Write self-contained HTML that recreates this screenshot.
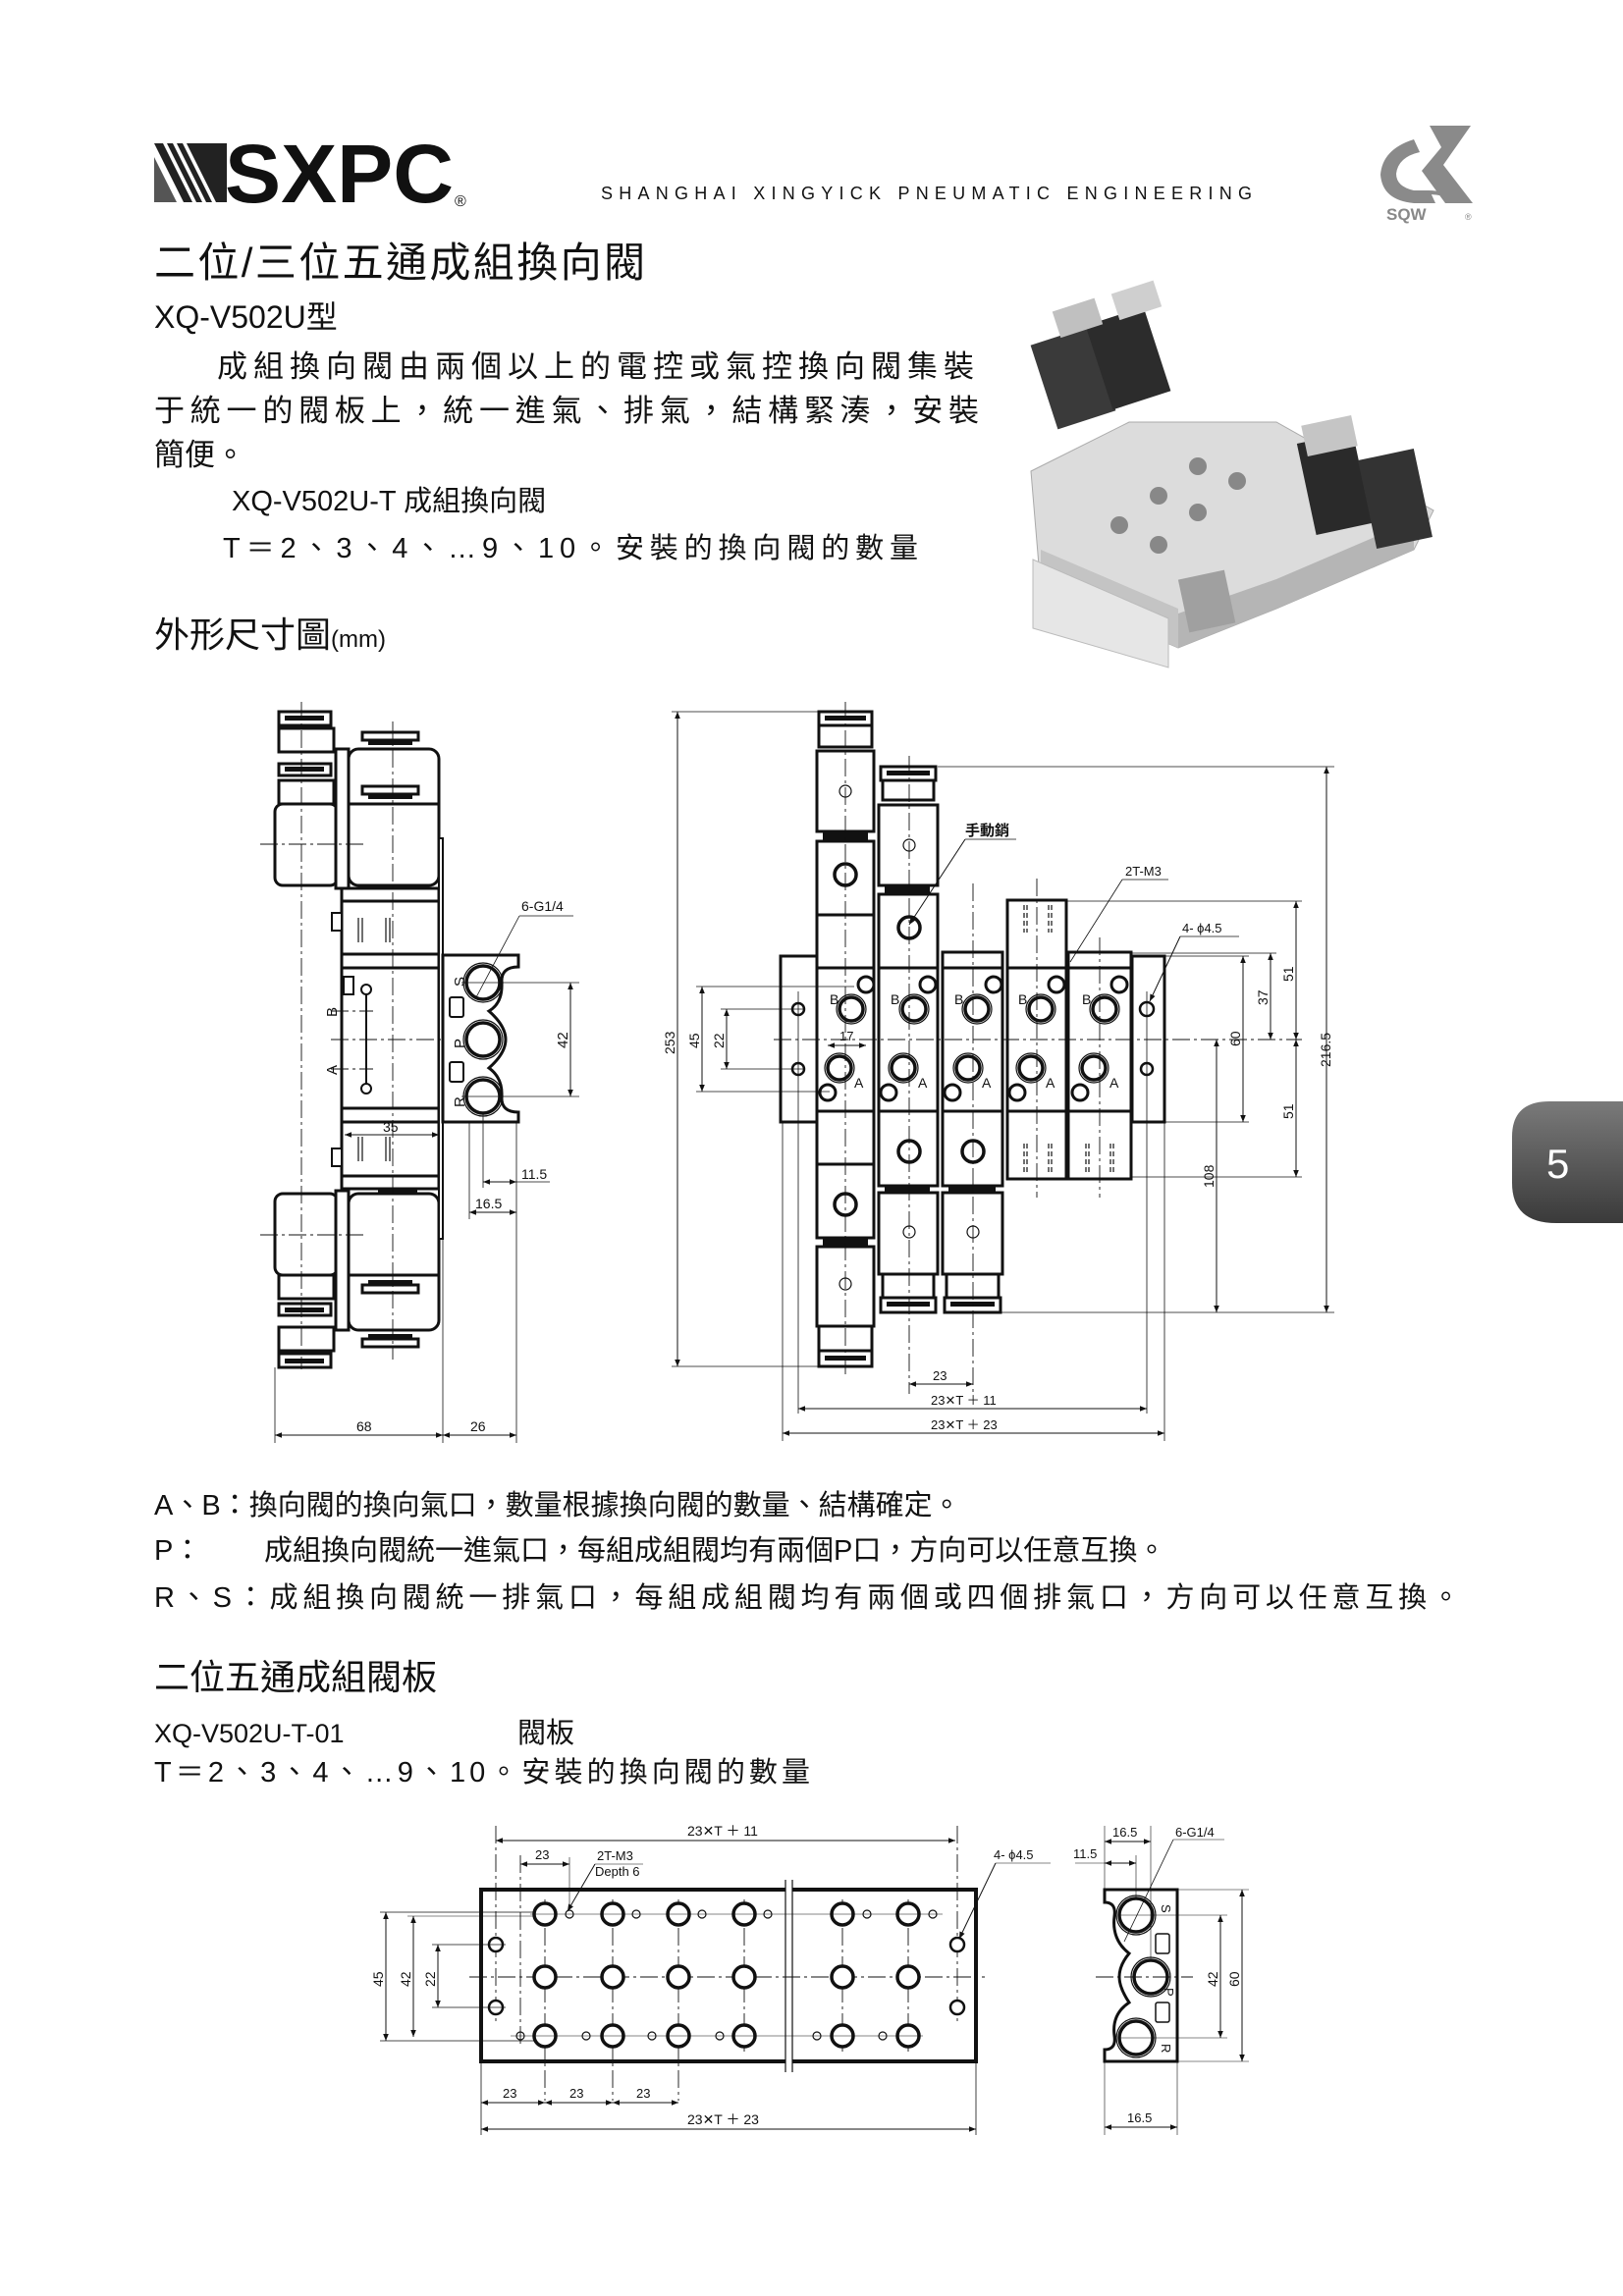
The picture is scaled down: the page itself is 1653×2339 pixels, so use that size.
<!DOCTYPE html>
<html><head><meta charset="utf-8">
<style>
html,body{margin:0;padding:0;background:#fff;}
svg{display:block;}
.t{font-family:"Liberation Sans","Noto Sans CJK TC",sans-serif;fill:#111;}
.o{fill:#fff;stroke:#111;stroke-width:3;}
.on{fill:none;stroke:#111;stroke-width:3;}
.th{fill:none;stroke:#111;stroke-width:1.2;}
.d{fill:none;stroke:#111;stroke-width:1;marker-start:url(#ar);marker-end:url(#ar);}
.c{fill:none;stroke:#111;stroke-width:0.9;stroke-dasharray:18 4 3 4;}
.dim{font-family:"Liberation Sans",sans-serif;font-size:15px;fill:#111;}
.h{fill:#fff;stroke:#111;stroke-width:3.5;}
.hs{fill:#fff;stroke:#111;stroke-width:2;}
</style></head><body>
<svg width="1653" height="2339" viewBox="0 0 1653 2339" xmlns="http://www.w3.org/2000/svg">
<defs>
<marker id="ar" viewBox="0 0 10 10" refX="10" refY="5" markerWidth="12" markerHeight="7" markerUnits="userSpaceOnUse" orient="auto-start-reverse"><path d="M0,1 L10,5 L0,9z" fill="#111"/></marker>
<linearGradient id="tg" x1="0" y1="0" x2="0" y2="1"><stop offset="0" stop-color="#7a7a7a"/><stop offset="1" stop-color="#3a3a3a"/></linearGradient>
</defs>

<!-- HEADER -->
<g fill="#222">
<polygon points="157,146 166,146 196,206 187,206"/>
<polygon points="170,146 176,146 206,206 200,206"/>
<polygon points="180,146 186,146 216,206 210,206"/>
<polygon points="190,146 231,146 231,206 220,206"/>
<polygon points="157,160 157,206 180,206" fill="#555"/>
</g>
<text x="229" y="206" class="t" style="font-size:84px;font-weight:bold" textLength="233" lengthAdjust="spacingAndGlyphs">SXPC</text>
<text x="463" y="210" class="t" style="font-size:16px">®</text>
<text x="612" y="203" class="t" style="font-size:18px" textLength="663" lengthAdjust="spacing">SHANGHAI XINGYICK PNEUMATIC ENGINEERING</text>
<!-- SQW logo -->
<g fill="#8a8a8a">
<path d="M1440,142 Q1408,152 1406,178 Q1408,204 1440,207 L1462,207 L1456,194 L1440,194 Q1422,190 1422,177 Q1424,160 1446,155 Z"/>
<polygon points="1456,128 1498,128 1470,168 1500,207 1472,207 1448,174 1468,150"/>
<path d="M1430,200 Q1460,190 1490,205" fill="none" stroke="#8a8a8a" stroke-width="4"/>
</g>
<text x="1412" y="224" class="t" style="font-size:17px;font-weight:bold;fill:#888">SQW</text>
<text x="1492" y="224" class="t" style="font-size:9px;fill:#888">®</text>

<!-- TITLES -->
<text x="157" y="282" class="t" style="font-size:42px" textLength="500">二位/三位五通成組換向閥</text>
<text x="157" y="334" class="t" style="font-size:32px">XQ-V502U型</text>
<text x="221" y="384" class="t" style="font-size:31px" textLength="771">成組換向閥由兩個以上的電控或氣控換向閥集裝</text>
<text x="157" y="429" class="t" style="font-size:31px" textLength="840">于統一的閥板上，統一進氣、排氣，結構緊湊，安裝</text>
<text x="157" y="474" class="t" style="font-size:31px">簡便。</text>
<text x="236" y="520" class="t" style="font-size:29px">XQ-V502U-T  成組換向閥</text>
<text x="227" y="568" class="t" style="font-size:29px" textLength="708">T＝2、3、4、…9、10。安裝的換向閥的數量</text>
<text x="157" y="659" class="t" style="font-size:36px">外形尺寸圖<tspan style="font-size:24px">(mm)</tspan></text>

<!-- PHOTO approx -->
<g>
<polygon points="1050,480 1150,430 1300,430 1460,520 1440,560 1300,620 1200,660 1060,600" fill="#dcdcdc" stroke="#aaa"/>
<polygon points="1060,600 1200,660 1200,620 1060,560" fill="#c4c4c4"/>
<polygon points="1200,660 1300,620 1440,560 1440,530 1300,590 1200,625" fill="#b5b5b5"/>
<polygon points="1052,570 1190,630 1190,680 1052,640" fill="#e6e6e6" stroke="#bbb"/>
<rect x="1062" y="340" width="62" height="90" fill="#3a3a3a" transform="rotate(-18 1093 385)"/>
<rect x="1118" y="320" width="62" height="90" fill="#2c2c2c" transform="rotate(-18 1149 365)"/>
<rect x="1075" y="310" width="45" height="28" fill="#c0c0c0" transform="rotate(-18 1097 324)"/>
<rect x="1135" y="292" width="45" height="28" fill="#cfcfcf" transform="rotate(-18 1157 306)"/>
<rect x="1330" y="445" width="58" height="95" fill="#2a2a2a" transform="rotate(-12 1359 492)"/>
<rect x="1392" y="462" width="58" height="92" fill="#333" transform="rotate(-12 1421 508)"/>
<rect x="1328" y="428" width="52" height="32" fill="#c5c5c5" transform="rotate(-12 1354 444)"/>
<circle cx="1220" cy="475" r="9" fill="#888"/><circle cx="1260" cy="490" r="9" fill="#888"/>
<circle cx="1180" cy="505" r="9" fill="#888"/><circle cx="1220" cy="522" r="9" fill="#888"/>
<circle cx="1140" cy="535" r="9" fill="#888"/><circle cx="1180" cy="555" r="9" fill="#888"/>
<rect x="1205" y="585" width="48" height="55" fill="#a0a0a0" transform="rotate(-12 1229 612)"/>
</g>

<!-- TAB -->
<path d="M1653,1122 H1578 Q1540,1122 1540,1158 V1205 Q1540,1246 1585,1246 H1653 Z" fill="url(#tg)"/>
<text x="1575" y="1200" class="t" style="font-size:42px;fill:#fff">5</text>

<!-- LEFT DRAWING -->
<g id="topsol">
<rect x="284" y="725" width="53" height="14" class="o"/>
<rect x="290" y="729" width="40" height="5" fill="#111"/>
<rect x="284" y="742" width="56" height="24" class="o"/>
<rect x="284" y="778" width="53" height="12" class="o"/>
<rect x="290" y="781" width="40" height="5" fill="#111"/>
<rect x="284" y="795" width="56" height="24" class="o"/>
<rect x="280" y="819" width="64" height="83" rx="8" class="o"/>
<rect x="355" y="763" width="92" height="139" rx="10" class="o"/>
<line x1="355" y1="819" x2="447" y2="819" class="on"/>
<rect x="342" y="763" width="13" height="142" class="o"/>
<rect x="369" y="746" width="57" height="8" class="o"/>
<rect x="375" y="754" width="45" height="5" fill="#111"/>
<rect x="369" y="801" width="57" height="8" class="o"/>
<rect x="375" y="809" width="45" height="5" fill="#111"/>
<rect x="385" y="902" width="40" height="5" fill="#111"/>
</g>
<use href="#topsol" transform="translate(0,2118) scale(1,-1)"/>
<rect x="348" y="905" width="99" height="306" class="o"/>
<line x1="348" y1="918" x2="447" y2="918" class="on"/>
<line x1="348" y1="972" x2="447" y2="972" class="on"/>
<line x1="348" y1="986" x2="447" y2="986" class="on"/>
<line x1="348" y1="1129" x2="447" y2="1129" class="on"/>
<line x1="348" y1="1143" x2="447" y2="1143" class="on"/>
<line x1="348" y1="1198" x2="447" y2="1198" class="on"/>
<rect x="447" y="854" width="4" height="408" class="o" style="stroke-width:2"/>
<rect x="338" y="930" width="10" height="18" class="o" style="stroke-width:2"/>
<rect x="338" y="1170" width="10" height="18" class="o" style="stroke-width:2"/>
<rect x="350" y="995" width="10" height="18" class="o" style="stroke-width:2"/>
<g class="th"><line x1="365" y1="935" x2="365" y2="960"/><line x1="369" y1="935" x2="369" y2="960"/><line x1="393" y1="935" x2="393" y2="960"/><line x1="397" y1="935" x2="397" y2="960"/>
<line x1="365" y1="1158" x2="365" y2="1183"/><line x1="369" y1="1158" x2="369" y2="1183"/><line x1="393" y1="1158" x2="393" y2="1183"/><line x1="397" y1="1158" x2="397" y2="1183"/></g>
<line x1="373" y1="1008" x2="373" y2="1109" class="on" style="stroke-width:2"/>
<circle cx="373" cy="1008" r="5" class="hs"/><circle cx="373" cy="1109" r="5" class="hs"/>
<line x1="400" y1="735" x2="400" y2="1385" class="c"/>
<line x1="307" y1="715" x2="307" y2="1395" class="c"/>
<line x1="265" y1="860" x2="372" y2="860" class="c"/>
<line x1="265" y1="1258" x2="372" y2="1258" class="c"/>
<line x1="337" y1="1030" x2="380" y2="1030" class="c"/>
<line x1="337" y1="1089" x2="380" y2="1089" class="c"/>
<line x1="337" y1="1059" x2="515" y2="1059" class="c"/>
<text transform="translate(343,1036) rotate(-90)" class="dim">B</text>
<text transform="translate(343,1095) rotate(-90)" class="dim">A</text>
<path d="M451,973 H528 V985 Q510,985 511,1001 Q512,1022 498,1030 Q515,1045 515,1059 Q515,1073 498,1088 Q512,1098 511,1117 Q510,1133 528,1133 V1143 H451 Z" class="o"/>
<circle cx="492" cy="1001" r="17" class="h"/><circle cx="492" cy="1001" r="20" class="th"/>
<circle cx="492" cy="1059" r="17" class="h"/><circle cx="492" cy="1059" r="20" class="th"/>
<circle cx="492" cy="1117" r="17" class="h"/><circle cx="492" cy="1117" r="20" class="th"/>
<rect x="458" y="1016" width="14" height="20" rx="2" class="o" style="stroke-width:2"/>
<rect x="458" y="1082" width="14" height="20" rx="2" class="o" style="stroke-width:2"/>
<text transform="translate(473,1005) rotate(-90)" class="dim">S</text>
<text transform="translate(473,1068) rotate(-90)" class="dim">P</text>
<text transform="translate(473,1128) rotate(-90)" class="dim">R</text>
<line x1="470" y1="1001" x2="590" y2="1001" class="th" style="stroke-width:0.8"/>
<line x1="470" y1="1117" x2="590" y2="1117" class="th" style="stroke-width:0.8"/>
<line x1="581" y1="1001" x2="581" y2="1117" class="d"/>
<text transform="translate(578,1068) rotate(-90)" class="dim">42</text>
<text x="531" y="928" class="dim" style="font-size:14px">6-G1/4</text>
<line x1="529" y1="933" x2="584" y2="933" class="th" style="stroke-width:0.8"/>
<line x1="529" y1="933" x2="485" y2="1016" class="th" style="stroke-width:0.8"/>
<line x1="351" y1="1156" x2="447" y2="1156" class="d"/>
<text x="390" y="1153" class="dim" style="font-size:14px">35</text>
<line x1="478" y1="1143" x2="478" y2="1242" class="th" style="stroke-width:0.8"/>
<line x1="492" y1="1135" x2="492" y2="1210" class="th" style="stroke-width:0.8"/>
<line x1="526" y1="1143" x2="526" y2="1470" class="th" style="stroke-width:0.8"/>
<line x1="451" y1="1262" x2="451" y2="1470" class="th" style="stroke-width:0.8"/>
<line x1="280" y1="1393" x2="280" y2="1470" class="th" style="stroke-width:0.8"/>
<line x1="492" y1="1204" x2="526" y2="1204" class="d"/>
<line x1="526" y1="1204" x2="560" y2="1204" class="th" style="stroke-width:0.8"/>
<text x="531" y="1201" class="dim" style="font-size:14px">11.5</text>
<line x1="478" y1="1235" x2="526" y2="1235" class="d"/>
<text x="484" y="1231" class="dim" style="font-size:14px">16.5</text>
<line x1="280" y1="1462" x2="451" y2="1462" class="d"/>
<text x="363" y="1458" class="dim" style="font-size:14px">68</text>
<line x1="451" y1="1462" x2="526" y2="1462" class="d"/>
<text x="479" y="1458" class="dim" style="font-size:14px">26</text>

<!-- RIGHT DRAWING -->
<rect x="795" y="974" width="37" height="169" class="o"/>
<rect x="1153" y="974" width="33" height="169" class="o"/>
<circle cx="813" cy="1028" r="6" class="h" style="stroke-width:2.5"/>
<circle cx="813" cy="1089" r="6" class="h" style="stroke-width:2.5"/>
<circle cx="1168" cy="1028" r="7" class="h" style="stroke-width:2.5"/>
<circle cx="1168" cy="1089" r="6" class="h" style="stroke-width:2.5"/>
<g>
<rect x="834" y="725" width="54" height="14" class="o"/><rect x="840" y="729" width="42" height="5" fill="#111"/>
<rect x="834" y="739" width="54" height="22" class="o"/>
<rect x="832" y="765" width="58" height="82" class="o"/>
<rect x="838" y="848" width="46" height="8" fill="#111"/>
<rect x="832" y="857" width="58" height="404" class="o"/>
<line x1="832" y1="932" x2="890" y2="932" class="on"/><line x1="832" y1="986" x2="890" y2="986" class="on"/>
<line x1="832" y1="1132" x2="890" y2="1132" class="on"/><line x1="832" y1="1186" x2="890" y2="1186" class="on"/>
<rect x="838" y="1262" width="46" height="8" fill="#111"/>
<rect x="832" y="1270" width="58" height="81" class="o"/>
<rect x="834" y="1351" width="54" height="25" class="o"/>
<rect x="834" y="1376" width="54" height="16" class="o"/><rect x="840" y="1381" width="42" height="5" fill="#111"/>
<circle cx="861" cy="806" r="6" class="th"/><circle cx="861" cy="1308" r="6" class="th"/>
<circle cx="861" cy="891" r="11" class="h"/><circle cx="861" cy="1227" r="11" class="h"/>
</g>
<g>
<rect x="897" y="781" width="56" height="14" class="o"/><rect x="903" y="785" width="44" height="5" fill="#111"/>
<rect x="899" y="795" width="52" height="20" class="o"/>
<rect x="895" y="820" width="60" height="82" class="o"/>
<rect x="901" y="903" width="46" height="7" fill="#111"/>
<rect x="895" y="911" width="60" height="297" class="o"/>
<line x1="895" y1="986" x2="955" y2="986" class="on"/><line x1="895" y1="1132" x2="955" y2="1132" class="on"/>
<rect x="901" y="1208" width="46" height="7" fill="#111"/>
<rect x="895" y="1215" width="60" height="83" class="o"/>
<rect x="899" y="1298" width="52" height="24" class="o"/>
<rect x="897" y="1322" width="56" height="15" class="o"/><rect x="903" y="1326" width="44" height="5" fill="#111"/>
<circle cx="926" cy="861" r="6" class="th"/><circle cx="926" cy="1255" r="6" class="th"/>
<circle cx="926" cy="945" r="11" class="h"/><circle cx="926" cy="1173" r="11" class="h"/>
</g>
<g>
<rect x="960" y="970" width="61" height="238" class="o"/>
<line x1="960" y1="986" x2="1021" y2="986" class="on"/><line x1="960" y1="1132" x2="1021" y2="1132" class="on"/>
<rect x="966" y="1208" width="48" height="7" fill="#111"/>
<rect x="960" y="1215" width="61" height="83" class="o"/>
<rect x="964" y="1298" width="53" height="24" class="o"/>
<rect x="962" y="1322" width="57" height="15" class="o"/><rect x="968" y="1326" width="45" height="5" fill="#111"/>
<circle cx="991" cy="1255" r="6" class="th"/>
<circle cx="991" cy="1173" r="11" class="h"/>
</g>
<g>
<rect x="1026" y="917" width="60" height="284" class="o"/>
<line x1="1026" y1="986" x2="1086" y2="986" class="on"/><line x1="1026" y1="1132" x2="1086" y2="1132" class="on"/>
<g class="th" style="stroke-dasharray:5 3"><line x1="1043" y1="922" x2="1043" y2="950"/><line x1="1046" y1="922" x2="1046" y2="950"/><line x1="1068" y1="922" x2="1068" y2="950"/><line x1="1071" y1="922" x2="1071" y2="950"/>
<line x1="1043" y1="1165" x2="1043" y2="1195"/><line x1="1046" y1="1165" x2="1046" y2="1195"/><line x1="1068" y1="1165" x2="1068" y2="1195"/><line x1="1071" y1="1165" x2="1071" y2="1195"/></g>
</g>
<g>
<rect x="1088" y="970" width="64" height="231" class="o"/>
<line x1="1088" y1="986" x2="1152" y2="986" class="on"/><line x1="1088" y1="1132" x2="1152" y2="1132" class="on"/>
<g class="th" style="stroke-dasharray:5 3"><line x1="1106" y1="1165" x2="1106" y2="1195"/><line x1="1109" y1="1165" x2="1109" y2="1195"/><line x1="1131" y1="1165" x2="1131" y2="1195"/><line x1="1134" y1="1165" x2="1134" y2="1195"/></g>
</g>
<g>
<circle cx="882" cy="1003" r="8" class="hs" style="stroke-width:3"/><circle cx="945" cy="1003" r="8" class="hs" style="stroke-width:3"/><circle cx="1012" cy="1003" r="8" class="hs" style="stroke-width:3"/><circle cx="1076" cy="1003" r="8" class="hs" style="stroke-width:3"/><circle cx="1140" cy="1003" r="8" class="hs" style="stroke-width:3"/>
<circle cx="843" cy="1113" r="8" class="hs" style="stroke-width:3"/><circle cx="905" cy="1113" r="8" class="hs" style="stroke-width:3"/><circle cx="970" cy="1113" r="8" class="hs" style="stroke-width:3"/><circle cx="1036" cy="1113" r="8" class="hs" style="stroke-width:3"/><circle cx="1100" cy="1113" r="8" class="hs" style="stroke-width:3"/>
<circle cx="867" cy="1028" r="12" class="h"/><circle cx="867" cy="1028" r="15" class="th"/>
<circle cx="931" cy="1028" r="12" class="h"/><circle cx="931" cy="1028" r="15" class="th"/>
<circle cx="995" cy="1028" r="12" class="h"/><circle cx="995" cy="1028" r="15" class="th"/>
<circle cx="1060" cy="1028" r="12" class="h"/><circle cx="1060" cy="1028" r="15" class="th"/>
<circle cx="1125" cy="1028" r="12" class="h"/><circle cx="1125" cy="1028" r="15" class="th"/>
<circle cx="855" cy="1088" r="12" class="h"/><circle cx="855" cy="1088" r="15" class="th"/>
<circle cx="920" cy="1088" r="12" class="h"/><circle cx="920" cy="1088" r="15" class="th"/>
<circle cx="986" cy="1088" r="12" class="h"/><circle cx="986" cy="1088" r="15" class="th"/>
<circle cx="1050" cy="1088" r="12" class="h"/><circle cx="1050" cy="1088" r="15" class="th"/>
<circle cx="1114" cy="1088" r="12" class="h"/><circle cx="1114" cy="1088" r="15" class="th"/>
</g>
<g class="dim" style="font-size:14px">
<text x="845" y="1023">B</text><text x="907" y="1023">B</text><text x="972" y="1023">B</text><text x="1037" y="1023">B</text><text x="1102" y="1023">B</text>
<text x="870" y="1108">A</text><text x="935" y="1108">A</text><text x="1000" y="1108">A</text><text x="1065" y="1108">A</text><text x="1130" y="1108">A</text>
</g>
<line x1="861" y1="715" x2="861" y2="1400" class="c"/>
<line x1="926" y1="770" x2="926" y2="1420" class="c"/>
<line x1="991" y1="900" x2="991" y2="1420" class="c"/>
<line x1="1056" y1="895" x2="1056" y2="1220" class="c"/>
<line x1="1120" y1="955" x2="1120" y2="1220" class="c"/>
<line x1="788" y1="1059" x2="1326" y2="1059" class="c"/>
<line x1="813" y1="1010" x2="813" y2="1440" class="th" style="stroke-width:0.8"/>
<line x1="1168" y1="1010" x2="1168" y2="1440" class="th" style="stroke-width:0.8"/>
<line x1="797" y1="1143" x2="797" y2="1468" class="th" style="stroke-width:0.8"/>
<line x1="1186" y1="1143" x2="1186" y2="1468" class="th" style="stroke-width:0.8"/>
<line x1="684" y1="725" x2="834" y2="725" class="th" style="stroke-width:0.8"/>
<line x1="684" y1="1392" x2="834" y2="1392" class="th" style="stroke-width:0.8"/>
<line x1="690" y1="725" x2="690" y2="1392" class="d"/>
<text transform="translate(687,1074) rotate(-90)" class="dim" style="font-size:14px">253</text>
<line x1="709" y1="1005" x2="870" y2="1005" class="th" style="stroke-width:0.8"/>
<line x1="709" y1="1112" x2="845" y2="1112" class="th" style="stroke-width:0.8"/>
<line x1="715" y1="1005" x2="715" y2="1112" class="d"/>
<text transform="translate(712,1068) rotate(-90)" class="dim" style="font-size:14px">45</text>
<line x1="734" y1="1028" x2="820" y2="1028" class="th" style="stroke-width:0.8"/>
<line x1="734" y1="1089" x2="820" y2="1089" class="th" style="stroke-width:0.8"/>
<line x1="740" y1="1028" x2="740" y2="1089" class="d"/>
<text transform="translate(737,1068) rotate(-90)" class="dim" style="font-size:14px">22</text>
<line x1="843" y1="1065" x2="882" y2="1065" class="d"/>
<text x="855" y="1060" class="dim" style="font-size:13px">17</text>
<line x1="955" y1="781" x2="1359" y2="781" class="th" style="stroke-width:0.8"/>
<line x1="1019" y1="1337" x2="1359" y2="1337" class="th" style="stroke-width:0.8"/>
<line x1="1351" y1="781" x2="1351" y2="1337" class="d"/>
<text transform="translate(1355,1087) rotate(-90)" class="dim" style="font-size:14px">216.5</text>
<line x1="1086" y1="918" x2="1326" y2="918" class="th" style="stroke-width:0.8"/>
<line x1="1152" y1="1199" x2="1326" y2="1199" class="th" style="stroke-width:0.8"/>
<line x1="1320" y1="918" x2="1320" y2="1059" class="d"/>
<line x1="1320" y1="1059" x2="1320" y2="1199" class="d"/>
<text transform="translate(1317,1000) rotate(-90)" class="dim" style="font-size:14px">51</text>
<text transform="translate(1317,1140) rotate(-90)" class="dim" style="font-size:14px">51</text>
<line x1="1152" y1="971" x2="1300" y2="971" class="th" style="stroke-width:0.8"/>
<line x1="1294" y1="971" x2="1294" y2="1059" class="d"/>
<text transform="translate(1291,1024) rotate(-90)" class="dim" style="font-size:14px">37</text>
<line x1="1186" y1="974" x2="1272" y2="974" class="th" style="stroke-width:0.8"/>
<line x1="1186" y1="1143" x2="1272" y2="1143" class="th" style="stroke-width:0.8"/>
<line x1="1266" y1="974" x2="1266" y2="1143" class="d"/>
<text transform="translate(1263,1066) rotate(-90)" class="dim" style="font-size:14px">60</text>
<line x1="1239" y1="1059" x2="1239" y2="1337" class="d"/>
<text transform="translate(1236,1210) rotate(-90)" class="dim" style="font-size:14px">108</text>
<line x1="926" y1="1410" x2="991" y2="1410" class="d"/>
<text x="950" y="1406" class="dim" style="font-size:13px">23</text>
<line x1="813" y1="1435" x2="1168" y2="1435" class="d"/>
<text x="948" y="1431" class="dim" style="font-size:13px">23✕T ＋ 11</text>
<line x1="797" y1="1460" x2="1186" y2="1460" class="d"/>
<text x="948" y="1456" class="dim" style="font-size:13px">23✕T ＋ 23</text>
<text x="983" y="851" class="t" style="font-size:15px;font-weight:bold">手動銷</text>
<line x1="983" y1="855" x2="1035" y2="855" class="th" style="stroke-width:0.8"/>
<line x1="983" y1="855" x2="926" y2="942" class="d" style="marker-start:none"/>
<text x="1146" y="892" class="dim" style="font-size:13px">2T-M3</text>
<line x1="1143" y1="896" x2="1190" y2="896" class="th" style="stroke-width:0.8"/>
<line x1="1143" y1="896" x2="1090" y2="980" class="th" style="stroke-width:0.8"/>
<text x="1204" y="950" class="dim" style="font-size:13px">4- ϕ4.5</text>
<line x1="1202" y1="954" x2="1262" y2="954" class="th" style="stroke-width:0.8"/>
<line x1="1202" y1="954" x2="1171" y2="1020" class="d" style="marker-start:none"/>

<!-- BOTTOM TEXTS -->
<text x="157" y="1543" class="t" style="font-size:29px">A、B：換向閥的換向氣口，數量根據換向閥的數量、結構確定。</text>
<text x="157" y="1589" class="t" style="font-size:29px">P：</text>
<text x="269" y="1589" class="t" style="font-size:29px">成組換向閥統一進氣口，每組成組閥均有兩個P口，方向可以任意互換。</text>
<text x="157" y="1637" class="t" style="font-size:29px" textLength="1330">R、S：成組換向閥統一排氣口，每組成組閥均有兩個或四個排氣口，方向可以任意互換。</text>
<text x="157" y="1721" class="t" style="font-size:36px">二位五通成組閥板</text>
<text x="157" y="1775" class="t" style="font-size:27px">XQ-V502U-T-01</text>
<text x="527" y="1775" class="t" style="font-size:29px">閥板</text>
<text x="157" y="1815" class="t" style="font-size:29px" textLength="668">T＝2、3、4、…9、10。安裝的換向閥的數量</text>

<!-- BOTTOM DRAWING -->
<rect x="490" y="1925" width="504" height="175" class="o" style="stroke-width:4"/>
<rect x="800" y="1915" width="7" height="196" fill="#fff"/>
<line x1="800" y1="1915" x2="800" y2="2111" class="th"/><line x1="807" y1="1915" x2="807" y2="2111" class="th"/>
<line x1="478" y1="2014" x2="1003" y2="2014" class="c"/>
<g class="c">
<line x1="555" y1="1935" x2="555" y2="2140"/><line x1="624" y1="1935" x2="624" y2="2140"/><line x1="691" y1="1935" x2="691" y2="2140"/><line x1="758" y1="1935" x2="758" y2="2090"/><line x1="858" y1="1935" x2="858" y2="2090"/><line x1="925" y1="1935" x2="925" y2="2090"/>
<line x1="505" y1="1860" x2="505" y2="2060"/><line x1="975" y1="1860" x2="975" y2="2060"/>
<line x1="530" y1="1890" x2="530" y2="2085"/>
</g>
<g>
<circle cx="555" cy="1950" r="11" class="h"/><circle cx="624" cy="1950" r="11" class="h"/><circle cx="691" cy="1950" r="11" class="h"/><circle cx="758" cy="1950" r="11" class="h"/><circle cx="858" cy="1950" r="11" class="h"/><circle cx="925" cy="1950" r="11" class="h"/>
<circle cx="555" cy="2014" r="11" class="h"/><circle cx="624" cy="2014" r="11" class="h"/><circle cx="691" cy="2014" r="11" class="h"/><circle cx="758" cy="2014" r="11" class="h"/><circle cx="858" cy="2014" r="11" class="h"/><circle cx="925" cy="2014" r="11" class="h"/>
<circle cx="555" cy="2074" r="11" class="h"/><circle cx="624" cy="2074" r="11" class="h"/><circle cx="691" cy="2074" r="11" class="h"/><circle cx="758" cy="2074" r="11" class="h"/><circle cx="858" cy="2074" r="11" class="h"/><circle cx="925" cy="2074" r="11" class="h"/>
<circle cx="580" cy="1950" r="4" class="th"/><circle cx="648" cy="1950" r="4" class="th"/><circle cx="715" cy="1950" r="4" class="th"/><circle cx="782" cy="1950" r="4" class="th"/><circle cx="883" cy="1950" r="4" class="th"/><circle cx="950" cy="1950" r="4" class="th"/>
<circle cx="530" cy="2074" r="4" class="th"/><circle cx="597" cy="2074" r="4" class="th"/><circle cx="664" cy="2074" r="4" class="th"/><circle cx="733" cy="2074" r="4" class="th"/><circle cx="832" cy="2074" r="4" class="th"/><circle cx="899" cy="2074" r="4" class="th"/>
<circle cx="505" cy="1981" r="7" class="h" style="stroke-width:2.5"/><circle cx="505" cy="2045" r="7" class="h" style="stroke-width:2.5"/>
<circle cx="975" cy="1981" r="7" class="h" style="stroke-width:2.5"/><circle cx="975" cy="2045" r="7" class="h" style="stroke-width:2.5"/>
</g>
<line x1="540" y1="1950" x2="960" y2="1950" class="th" style="stroke-width:0.6"/>
<line x1="520" y1="2074" x2="940" y2="2074" class="th" style="stroke-width:0.6"/>
<line x1="387" y1="1948" x2="545" y2="1948" class="th" style="stroke-width:0.8"/>
<line x1="387" y1="2079" x2="545" y2="2079" class="th" style="stroke-width:0.8"/>
<line x1="393" y1="1948" x2="393" y2="2079" class="d"/>
<text transform="translate(390,2024) rotate(-90)" class="dim" style="font-size:14px">45</text>
<line x1="415" y1="1952" x2="545" y2="1952" class="th" style="stroke-width:0.6"/>
<line x1="421" y1="1952" x2="421" y2="2075" class="d"/>
<text transform="translate(418,2024) rotate(-90)" class="dim" style="font-size:14px">42</text>
<line x1="440" y1="1981" x2="515" y2="1981" class="th" style="stroke-width:0.8"/>
<line x1="440" y1="2045" x2="515" y2="2045" class="th" style="stroke-width:0.8"/>
<line x1="446" y1="1981" x2="446" y2="2045" class="d"/>
<text transform="translate(443,2024) rotate(-90)" class="dim" style="font-size:14px">22</text>
<line x1="505" y1="1875" x2="973" y2="1875" class="d"/>
<text x="700" y="1870" class="dim" style="font-size:14px">23✕T ＋ 11</text>
<line x1="530" y1="1899" x2="580" y2="1899" class="d"/>
<line x1="580" y1="1892" x2="580" y2="1945" class="th" style="stroke-width:0.6"/>
<text x="545" y="1894" class="dim" style="font-size:13px">23</text>
<text x="608" y="1895" class="dim" style="font-size:13px">2T-M3</text>
<text x="606" y="1911" class="dim" style="font-size:13px">Depth 6</text>
<line x1="606" y1="1899" x2="655" y2="1899" class="th" style="stroke-width:0.6"/>
<line x1="606" y1="1899" x2="578" y2="1947" class="d" style="marker-start:none"/>
<text x="1012" y="1894" class="dim" style="font-size:13px">4- ϕ4.5</text>
<line x1="1014" y1="1898" x2="1070" y2="1898" class="th" style="stroke-width:0.6"/>
<line x1="1014" y1="1898" x2="977" y2="1975" class="d" style="marker-start:none"/>
<line x1="490" y1="2100" x2="490" y2="2175" class="th" style="stroke-width:0.8"/>
<line x1="994" y1="2100" x2="994" y2="2175" class="th" style="stroke-width:0.8"/>
<line x1="490" y1="2142" x2="555" y2="2142" class="d"/>
<line x1="555" y1="2142" x2="624" y2="2142" class="d"/>
<line x1="624" y1="2142" x2="691" y2="2142" class="d"/>
<text x="512" y="2137" class="dim" style="font-size:13px">23</text>
<text x="580" y="2137" class="dim" style="font-size:13px">23</text>
<text x="648" y="2137" class="dim" style="font-size:13px">23</text>
<line x1="490" y1="2169" x2="994" y2="2169" class="d"/>
<text x="700" y="2164" class="dim" style="font-size:14px">23✕T ＋ 23</text>

<!-- side view -->
<path d="M1125,1925 H1199 V2100 H1125 V2088 Q1137,2088 1135,2074 Q1132,2052 1150,2040 Q1140,2025 1140,2014 Q1140,2002 1150,1990 Q1132,1976 1135,1952 Q1137,1938 1125,1938 Z" class="o"/>
<circle cx="1157" cy="1951" r="17" class="h"/><circle cx="1157" cy="1951" r="20" class="th"/>
<circle cx="1172" cy="2014" r="17" class="h"/><circle cx="1172" cy="2014" r="20" class="th"/>
<circle cx="1157" cy="2076" r="17" class="h"/><circle cx="1157" cy="2076" r="20" class="th"/>
<rect x="1177" y="1970" width="14" height="20" rx="2" class="o" style="stroke-width:1.5"/>
<rect x="1177" y="2040" width="14" height="20" rx="2" class="o" style="stroke-width:1.5"/>
<text transform="translate(1183,1940) rotate(90)" class="dim" style="font-size:13px">S</text>
<text transform="translate(1186,2025) rotate(90)" class="dim" style="font-size:13px">P</text>
<text transform="translate(1183,2082) rotate(90)" class="dim" style="font-size:13px">R</text>
<line x1="1116" y1="2014" x2="1215" y2="2014" class="c"/>
<line x1="1140" y1="1951" x2="1250" y2="1951" class="th" style="stroke-width:0.6"/>
<line x1="1140" y1="2076" x2="1250" y2="2076" class="th" style="stroke-width:0.6"/>
<line x1="1199" y1="1925" x2="1272" y2="1925" class="th" style="stroke-width:0.6"/>
<line x1="1199" y1="2100" x2="1272" y2="2100" class="th" style="stroke-width:0.6"/>
<line x1="1243" y1="1951" x2="1243" y2="2076" class="d"/>
<text transform="translate(1240,2024) rotate(-90)" class="dim" style="font-size:14px">42</text>
<line x1="1265" y1="1925" x2="1265" y2="2100" class="d"/>
<text transform="translate(1262,2024) rotate(-90)" class="dim" style="font-size:14px">60</text>
<line x1="1125" y1="1860" x2="1125" y2="1925" class="th" style="stroke-width:0.6"/>
<line x1="1172" y1="1860" x2="1172" y2="1995" class="th" style="stroke-width:0.6"/>
<line x1="1157" y1="1890" x2="1157" y2="1935" class="th" style="stroke-width:0.6"/>
<line x1="1125" y1="1876" x2="1172" y2="1876" class="d"/>
<text x="1133" y="1871" class="dim" style="font-size:13px">16.5</text>
<line x1="1125" y1="1898" x2="1157" y2="1898" class="d"/>
<line x1="1095" y1="1898" x2="1125" y2="1898" class="th" style="stroke-width:0.6"/>
<text x="1093" y="1893" class="dim" style="font-size:13px">11.5</text>
<text x="1197" y="1871" class="dim" style="font-size:13px">6-G1/4</text>
<line x1="1195" y1="1874" x2="1247" y2="1874" class="th" style="stroke-width:0.6"/>
<line x1="1195" y1="1874" x2="1145" y2="1978" class="th" style="stroke-width:0.8"/>
<line x1="1125" y1="2100" x2="1125" y2="2175" class="th" style="stroke-width:0.6"/>
<line x1="1199" y1="2100" x2="1199" y2="2175" class="th" style="stroke-width:0.6"/>
<line x1="1125" y1="2167" x2="1199" y2="2167" class="d"/>
<text x="1148" y="2162" class="dim" style="font-size:13px">16.5</text>
</svg>
</body></html>
